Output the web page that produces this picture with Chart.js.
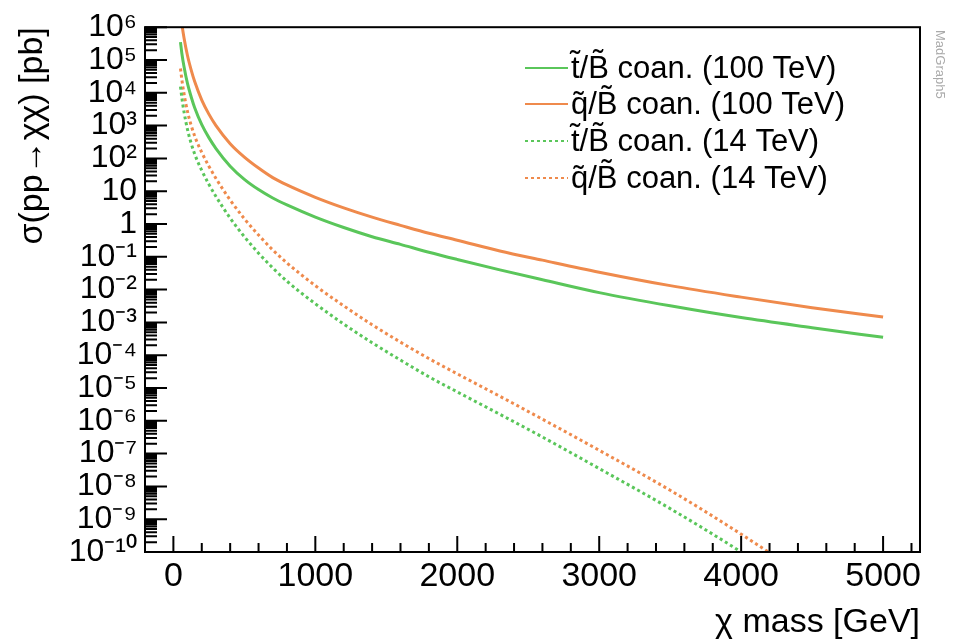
<!DOCTYPE html>
<html>
<head>
<meta charset="utf-8">
<script src="https://cdn.jsdelivr.net/npm/chart.js@4/dist/chart.umd.min.js"></script>
<style>
  html, body { margin: 0; padding: 0; background: #fff; }
  #chart { display: block; }
</style>
</head>
<body>
<canvas id="chart" width="955" height="643"></canvas>
<script>
// chi mass points (GeV) and cross sections (pb)
const massGeV = [50, 60, 75, 100, 125, 150, 200, 250, 300, 400, 500, 600, 700, 800, 1000, 1200, 1400, 1600, 1800, 2000, 2300, 2600, 3000, 3500, 4000, 4500, 5000];
const sigmaTB100 = [3.5e5, 1.55e5, 6.2e4, 1.86e4, 7.6e3, 3.5e3, 1.07e3, 430, 200, 58, 23, 11.2, 6.2, 3.8, 1.62, 0.78, 0.41, 0.24, 0.138, 0.083, 0.040, 0.020, 0.0081, 0.0032, 0.0014, 0.00069, 0.00035];
const sigmaQB100 = [2.75e6, 1.23e6, 4.7e5, 1.32e5, 5.0e4, 2.2e4, 6.0e3, 2.24e3, 1.0e3, 282, 110, 51, 26, 15.5, 6.5, 3.1, 1.62, 0.91, 0.52, 0.32, 0.151, 0.079, 0.034, 0.0132, 0.0059, 0.0028, 0.00145];
const sigmaTB14 = [1.55e4, 6.9e3, 2.6e3, 740, 290, 135, 43, 16.2, 6.9, 1.51, 0.41, 0.129, 0.046, 0.018, 3.7e-3, 8.9e-4, 2.4e-4, 7.1e-5, 2.2e-5, 7.6e-6, 1.58e-6, 3.2e-7, 3.5e-8, 2.1e-9, 1.0e-10, 3.5e-12, null];
const sigmaQB14 = [5.5e4, 2.45e4, 9.3e3, 2.6e3, 1.02e3, 480, 151, 58, 24.5, 5.4, 1.45, 0.46, 0.162, 0.065, 0.0132, 3.2e-3, 8.5e-4, 2.5e-4, 7.9e-5, 2.7e-5, 5.6e-6, 1.12e-6, 1.26e-7, 7.6e-9, 3.5e-10, 1.26e-11, null];

const seriesLabels = ['t\u0303/B\u0303 coan. (100 TeV)', 'q\u0303/B\u0303 coan. (100 TeV)', 't\u0303/B\u0303 coan. (14 TeV)', 'q\u0303/B\u0303 coan. (14 TeV)'];
const xTickValues = [0, 1000, 2000, 3000, 4000, 5000];
const yTickExponents = [-10, -9, -8, -7, -6, -5, -4, -3, -2, -1, 0, 1, 2, 3, 4, 5, 6];

const GREEN = '#5ac65a';
const ORANGE = '#ef8a4c';
const FONT = "'Liberation Sans', Arial, sans-serif";
Chart.defaults.font.family = FONT;
Chart.defaults.color = '#000';

function pts(ys) {
  return massGeV.map((m, i) => ({ x: m, y: ys[i] }));
}

const sup = { '0': '\u2070', '1': '\u00b9', '2': '\u00b2', '3': '\u00b3', '4': '\u2074', '5': '\u2075', '6': '\u2076', '7': '\u2077', '8': '\u2078', '9': '\u2079', '-': '\u207b' };
function powLabel(v) {
  const e = Math.round(Math.log10(v));
  if (e === 0) return '1';
  if (e === 1) return '10';
  return '10' + String(e).split('').map(c => sup[c]).join('');
}

// ROOT style frame with inward ticks, legend and watermark
const rootFrame = {
  id: 'rootFrame',
  afterDatasetsDraw(chart) {
    const { ctx, chartArea: a, scales: { x, y } } = chart;
    ctx.save();
    ctx.strokeStyle = '#000';
    ctx.lineWidth = 2;
    ctx.strokeRect(a.left, a.top, a.right - a.left, a.bottom - a.top);
    ctx.beginPath();
    yTickExponents.forEach(e => {
      const base = Math.pow(10, e);
      let py = y.getPixelForValue(base);
      ctx.moveTo(a.left, py); ctx.lineTo(a.left + 22, py);
      if (e < 6) {
        for (let m = 2; m <= 9; m++) {
          py = y.getPixelForValue(m * base);
          ctx.moveTo(a.left, py); ctx.lineTo(a.left + 12, py);
        }
      }
    });
    for (let v = 0; v <= 5200; v += 200) {
      const px = x.getPixelForValue(v);
      const len = v % 1000 === 0 ? 16 : 9;
      ctx.moveTo(px, a.bottom); ctx.lineTo(px, a.bottom - len);
    }
    ctx.stroke();

    // legend
    ctx.font = '31px ' + FONT;
    ctx.textBaseline = 'middle';
    ctx.textAlign = 'left';
    const rows = [68, 104, 141, 178];
    chart.data.datasets.forEach((ds, i) => {
      ctx.strokeStyle = ds.borderColor;
      ctx.lineWidth = 2;
      ctx.setLineDash(ds.borderDash || []);
      ctx.beginPath();
      ctx.moveTo(525, rows[i]); ctx.lineTo(568, rows[i]);
      ctx.stroke();
      ctx.setLineDash([]);
      ctx.fillStyle = '#000';
      ctx.fillText(ds.label, 571, rows[i] + 1);
    });

    // watermark
    ctx.translate(940, 30);
    ctx.rotate(Math.PI / 2);
    ctx.font = '13px ' + FONT;
    ctx.fillStyle = '#aaaaaa';
    ctx.textBaseline = 'middle';
    ctx.fillText('MadGraph5', 0, 0);
    ctx.restore();
  }
};

const solid = { borderWidth: 3, pointRadius: 0, fill: false, cubicInterpolationMode: 'monotone', spanGaps: false };
const dashed = Object.assign({}, solid, { borderDash: [3, 3] });

new Chart(document.getElementById('chart').getContext('2d'), {
  type: 'line',
  data: {
    datasets: [
      Object.assign({ label: seriesLabels[0], data: pts(sigmaTB100), borderColor: GREEN }, solid),
      Object.assign({ label: seriesLabels[1], data: pts(sigmaQB100), borderColor: ORANGE }, solid),
      Object.assign({ label: seriesLabels[2], data: pts(sigmaTB14), borderColor: GREEN }, dashed),
      Object.assign({ label: seriesLabels[3], data: pts(sigmaQB14), borderColor: ORANGE }, dashed)
    ]
  },
  options: {
    responsive: false,
    animation: false,
    devicePixelRatio: 1,
    layout: { padding: { top: 27, right: 35, left: 0, bottom: 0 } },
    plugins: { legend: { display: false }, tooltip: { enabled: false } },
    scales: {
      x: {
        type: 'linear',
        min: -200,
        max: 5260,
        grid: { display: false, drawTicks: false },
        border: { display: false },
        afterBuildTicks(s) { s.ticks = xTickValues.map(v => ({ value: v })); },
        afterFit(s) { s.height = 91; },
        ticks: { autoSkip: false, maxRotation: 0, padding: 4, font: { size: 34 }, color: '#000', callback: v => String(v) },
        title: { display: true, text: '\u03c7 mass [GeV]', align: 'end', font: { size: 34 }, color: '#000', padding: { top: 0, bottom: 0 } }
      },
      y: {
        type: 'logarithmic',
        min: 1e-10,
        max: 1e6,
        grid: { display: false, drawTicks: false },
        border: { display: false },
        afterBuildTicks(s) { s.ticks = yTickExponents.map(e => ({ value: Math.pow(10, e) })); },
        afterFit(s) { s.width = 145; },
        ticks: { autoSkip: false, padding: 8, font: { size: 32 }, color: '#000', callback: v => powLabel(v) },
        title: { display: true, text: '\u03c3(pp\u2192\u03c7\u03c7) [pb]', align: 'end', font: { size: 34 }, color: '#000', padding: { top: 12, bottom: 0 } }
      }
    }
  },
  plugins: [rootFrame]
});
</script>
</body>
</html>
